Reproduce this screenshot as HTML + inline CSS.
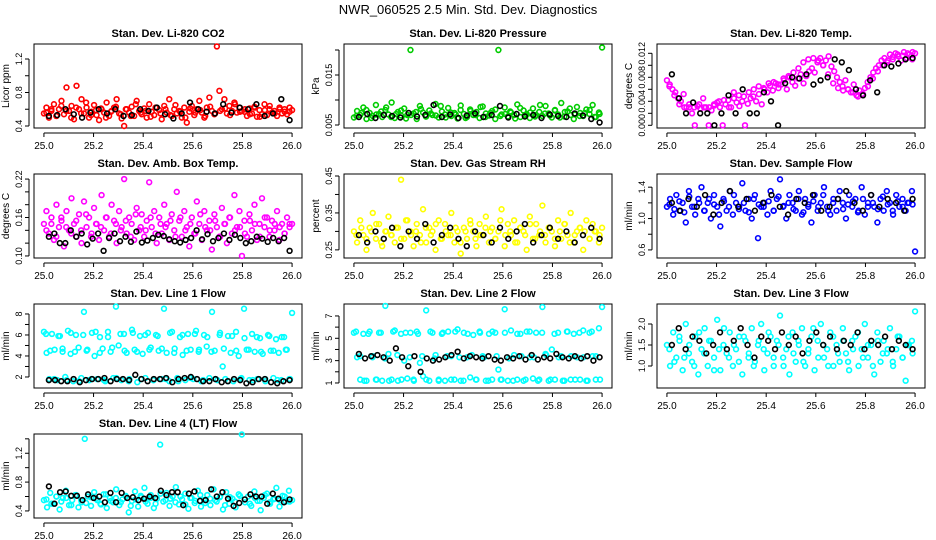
<!DOCTYPE html>
<html><head><meta charset="utf-8"><style>
html,body{margin:0;padding:0;background:#fff;}
svg{display:block;font-family:"Liberation Sans",sans-serif;}
</style></head><body>
<svg id="chart" width="936" height="540" viewBox="0 0 936 540" xmlns="http://www.w3.org/2000/svg">
<rect width="936" height="540" fill="#fff"/>
<text x="468" y="14" text-anchor="middle" font-size="13">NWR_060525  2.5 Min. Std. Dev. Diagnostics</text>
</svg>
<script>
const xTicks = [25.0, 25.2, 25.4, 25.6, 25.8, 26.0];
const xTickLabels = ["25.0", "25.2", "25.4", "25.6", "25.8", "26.0"];
const panelTitles = ["Stan. Dev. Li-820 CO2","Stan. Dev. Li-820 Pressure","Stan. Dev. Li-820 Temp.","Stan. Dev. Amb. Box Temp.","Stan. Dev. Gas Stream RH","Stan. Dev. Sample Flow","Stan. Dev. Line 1 Flow","Stan. Dev. Line 2 Flow","Stan. Dev. Line 3 Flow","Stan. Dev. Line 4 (LT) Flow"];
const yLabels = ["Licor ppm","kPa","degrees C","degrees C","percent","ml/min","ml/min","ml/min","ml/min","ml/min"];
const yDomains = [[0.376,1.379],[0.0044,0.0212],[-0.00045,0.01355],[0.0968,0.2279],[0.228,0.4554],[0.497,1.568],[0.95,8.95],[0.55,8.07],[0.476,2.476],[0.302,1.467]];
const yTicks = [[0.4,0.6,0.8,1.0,1.2],[0.005,0.010,0.015,0.020],[0,0.002,0.004,0.006,0.008,0.010,0.012],[0.10,0.12,0.14,0.16,0.18,0.20,0.22],[0.25,0.30,0.35,0.40,0.45],[0.6,0.8,1.0,1.2,1.4],[2,3,4,5,6,7,8],[1,2,3,4,5,6,7],[1.0,1.5,2.0],[0.4,0.6,0.8,1.0,1.2,1.4]];
const yTickLabels = [["0.4","","0.8","","1.2"],["0.005","","0.015",""],["0.000","","0.004","","0.008","","0.012"],["0.10","","","0.16","","","0.22"],["0.25","","0.35","","0.45"],["0.6","","1.0","","1.4"],["2","","4","","6","","8"],["1","","3","","5","","7"],["1.0","1.5","2.0"],["0.4","","0.8","","1.2",""]];
const seriesColors = ["#ff0000","#00cc00","#ff00ff","#ff00ff","#ffff00","#0000ff","#00ffff","#00ffff","#00ffff","#00ffff"];

const co2Vals = [0.55,0.62,0.50,0.58,0.66,0.52,0.60,0.70,0.54,0.86,0.58,0.64,0.48,0.88,0.60,0.72,0.55,0.62,0.50,0.57,0.65,0.53,0.47,0.60,0.56,0.68,0.52,0.58,0.62,0.72,0.55,0.49,0.40,0.60,0.56,0.63,0.52,0.70,0.58,0.54,0.61,0.50,0.66,0.57,0.53,0.62,0.59,0.48,0.64,0.56,0.72,0.52,0.60,0.55,0.58,0.50,0.62,0.44,0.57,0.64,0.53,0.60,0.70,0.56,0.50,0.62,0.74,0.58,0.54,1.35,0.82,0.60,0.72,0.55,0.64,0.58,0.68,0.56,0.62,0.58,0.57,0.52,0.61,0.55,0.63,0.51,0.59,0.54,0.66,0.53,0.60,0.56,0.58,0.52,0.62,0.55,0.60,0.54,0.57,0.59];
const co2Extra = [0.56,0.60,0.52,0.64,0.58,0.50,0.62,0.55,0.68,0.53,0.59,0.61,0.50,0.57,0.63,0.54,0.60,0.52,0.66,0.56,0.58,0.51,0.62,0.55,0.60,0.53,0.65,0.57,0.50,0.61,0.56,0.59,0.52,0.63,0.55,0.58,0.61,0.53,0.66,0.57,0.60,0.54,0.62,0.51,0.59,0.64,0.55,0.60,0.57,0.62];
const co2Black = [0.52,0.53,0.60,0.54,0.50,0.56,0.60,0.55,0.60,0.52,0.53,0.60,0.58,0.62,0.54,0.49,0.55,0.68,0.60,0.57,0.55,0.66,0.56,0.62,0.60,0.66,0.52,0.55,0.72,0.47];
const presVals = [0.0065,0.0078,0.0070,0.0085,0.0062,0.0074,0.0068,0.0090,0.0072,0.0066,0.0080,0.0071,0.0095,0.0064,0.0076,0.0069,0.0083,0.0070,0.0200,0.0073,0.0062,0.0088,0.0075,0.0067,0.0079,0.0070,0.0092,0.0065,0.0077,0.0071,0.0084,0.0068,0.0074,0.0063,0.0089,0.0072,0.0066,0.0081,0.0070,0.0076,0.0064,0.0087,0.0073,0.0069,0.0078,0.0062,0.0200,0.0071,0.0085,0.0067,0.0075,0.0070,0.0091,0.0066,0.0079,0.0072,0.0064,0.0083,0.0070,0.0076,0.0068,0.0088,0.0073,0.0065,0.0080,0.0071,0.0094,0.0067,0.0077,0.0070,0.0062,0.0086,0.0074,0.0068,0.0081,0.0072,0.0090,0.0066,0.0075,0.0205];
const presExtra = [0.0068,0.0074,0.0080,0.0064,0.0071,0.0077,0.0085,0.0066,0.0072,0.0079,0.0063,0.0070,0.0076,0.0082,0.0067,0.0073,0.0069,0.0088,0.0065,0.0075,0.0071,0.0080,0.0064,0.0078,0.0070,0.0086,0.0066,0.0074,0.0081,0.0068,0.0072,0.0077,0.0063,0.0084,0.0070,0.0075,0.0067,0.0090,0.0073,0.0069,0.0079,0.0065,0.0076,0.0083,0.0071,0.0068,0.0074,0.0080,0.0066,0.0072];
const presBlack = [0.0066,0.0072,0.0064,0.0070,0.0068,0.0065,0.0074,0.0067,0.0070,0.0090,0.0066,0.0071,0.0064,0.0069,0.0073,0.0066,0.0070,0.0088,0.0065,0.0072,0.0067,0.0070,0.0064,0.0071,0.0068,0.0066,0.0073,0.0069,0.0062,0.0055];
const tempVals = [0.0075,0.0068,0.0060,0.0055,0.0045,0.0040,0.0052,0.0030,0.0035,0.0020,0.0000,0.0032,0.0028,0.0045,0.0030,0.0000,0.0025,0.0033,0.0038,0.0030,0.0000,0.0035,0.0042,0.0030,0.0055,0.0038,0.0032,0.0040,0.0000,0.0036,0.0045,0.0048,0.0040,0.0052,0.0035,0.0060,0.0055,0.0066,0.0058,0.0070,0.0062,0.0068,0.0075,0.0060,0.0080,0.0072,0.0066,0.0078,0.0085,0.0070,0.0082,0.0090,0.0095,0.0088,0.0105,0.0112,0.0100,0.0108,0.0115,0.0098,0.0090,0.0080,0.0072,0.0065,0.0075,0.0060,0.0055,0.0068,0.0050,0.0058,0.0052,0.0062,0.0072,0.0080,0.0088,0.0095,0.0100,0.0108,0.0112,0.0105,0.0118,0.0110,0.0120,0.0115,0.0108,0.0122,0.0112,0.0118,0.0110,0.0120];
const tempExtra = [0.0065,0.0050,0.0035,0.0030,0.0030,0.0030,0.0035,0.0030,0.0030,0.0035,0.0040,0.0042,0.0030,0.0045,0.0050,0.0048,0.0055,0.0060,0.0065,0.0062,0.0070,0.0072,0.0068,0.0078,0.0082,0.0088,0.0095,0.0105,0.0110,0.0112,0.0108,0.0100,0.0085,0.0070,0.0062,0.0058,0.0060,0.0055,0.0048,0.0052,0.0065,0.0078,0.0090,0.0100,0.0108,0.0114,0.0118,0.0116,0.0120,0.0122];
const tempBlack = [0.0085,0.0045,0.0020,0.0038,0.0020,0.0020,0.0000,0.0020,0.0050,0.0020,0.0060,0.0020,0.0020,0.0055,0.0040,0.0000,0.0070,0.0080,0.0078,0.0085,0.0068,0.0075,0.0080,0.0110,0.0105,0.0092,0.0060,0.0050,0.0075,0.0055,0.0100,0.0098,0.0103,0.0110,0.0112];
const ambVals = [0.150,0.170,0.135,0.160,0.125,0.180,0.145,0.155,0.115,0.170,0.140,0.190,0.150,0.130,0.165,0.120,0.185,0.145,0.160,0.135,0.175,0.150,0.125,0.195,0.140,0.160,0.130,0.180,0.155,0.120,0.170,0.145,0.220,0.135,0.160,0.150,0.125,0.175,0.140,0.165,0.130,0.155,0.215,0.145,0.170,0.120,0.160,0.135,0.180,0.150,0.125,0.165,0.140,0.200,0.155,0.130,0.170,0.145,0.115,0.160,0.135,0.185,0.150,0.125,0.170,0.140,0.155,0.110,0.165,0.145,0.130,0.175,0.150,0.120,0.160,0.135,0.195,0.145,0.170,0.100,0.155,0.130,0.165,0.140,0.180,0.125,0.150,0.190,0.145,0.160,0.130,0.155,0.140,0.170,0.125,0.150,0.135,0.160,0.145,0.150];
const ambExtra = [0.140,0.150,0.130,0.160,0.145,0.135,0.155,0.140,0.165,0.130,0.150,0.145,0.160,0.135,0.150,0.140,0.155,0.130,0.165,0.145,0.140,0.160,0.135,0.150,0.145,0.155,0.130,0.160,0.140,0.150,0.135,0.165,0.145,0.140,0.155,0.130,0.150,0.160,0.140,0.145,0.135,0.155,0.150,0.130,0.160,0.140,0.150,0.145,0.135,0.150];
const ambBlack = [0.130,0.135,0.120,0.120,0.140,0.130,0.135,0.118,0.127,0.135,0.108,0.128,0.135,0.123,0.130,0.122,0.138,0.121,0.124,0.128,0.133,0.131,0.126,0.123,0.121,0.125,0.128,0.140,0.126,0.134,0.123,0.128,0.135,0.125,0.133,0.128,0.120,0.123,0.130,0.127,0.122,0.128,0.123,0.128,0.108];
const rhVals = [0.30,0.27,0.33,0.29,0.25,0.31,0.35,0.28,0.32,0.26,0.30,0.34,0.29,0.27,0.31,0.44,0.28,0.33,0.30,0.26,0.32,0.29,0.36,0.27,0.31,0.30,0.25,0.33,0.28,0.32,0.29,0.35,0.27,0.30,0.24,0.31,0.28,0.33,0.30,0.26,0.32,0.29,0.34,0.27,0.31,0.28,0.30,0.36,0.26,0.32,0.29,0.33,0.27,0.31,0.30,0.25,0.34,0.28,0.32,0.29,0.37,0.27,0.31,0.30,0.26,0.33,0.28,0.32,0.29,0.35,0.27,0.30,0.31,0.25,0.33,0.28,0.32,0.30,0.27,0.31];
const rhExtra = [0.29,0.31,0.28,0.30,0.32,0.27,0.30,0.29,0.31,0.28,0.33,0.29,0.30,0.27,0.31,0.29,0.32,0.28,0.30,0.29,0.31,0.27,0.30,0.32,0.28,0.29,0.31,0.30,0.28,0.33,0.29,0.30,0.27,0.31,0.29,0.32,0.28,0.30,0.29,0.31,0.28,0.30,0.32,0.27,0.29,0.31,0.30,0.28,0.30,0.29];
const rhBlack = [0.29,0.27,0.30,0.28,0.31,0.26,0.30,0.28,0.32,0.27,0.29,0.31,0.28,0.26,0.30,0.29,0.27,0.31,0.28,0.30,0.32,0.27,0.29,0.31,0.28,0.30,0.27,0.29,0.31,0.28];
const flowVals = [1.15,1.25,1.05,1.30,1.10,1.20,0.95,1.35,1.15,1.05,1.25,1.40,1.10,1.20,1.00,1.30,1.15,0.90,1.25,1.10,1.35,1.05,1.20,1.15,1.45,1.10,1.25,1.00,1.30,0.75,1.15,1.20,1.05,1.35,1.10,1.25,1.50,1.15,1.00,1.30,1.20,1.10,1.35,1.05,1.25,1.15,0.95,1.30,1.10,1.20,1.40,1.15,1.05,1.25,1.10,1.35,1.20,1.00,1.30,1.15,1.25,1.10,1.40,1.05,1.20,1.30,1.15,0.95,1.25,1.10,1.35,1.20,1.05,1.30,1.15,1.25,1.10,1.20,1.35,0.58];
const flowExtra = [1.18,1.12,1.22,1.08,1.28,1.15,1.20,1.10,1.25,1.18,1.05,1.22,1.15,1.30,1.12,1.20,1.08,1.25,1.18,1.15,1.22,1.10,1.28,1.16,1.20,1.12,1.25,1.08,1.18,1.22,1.15,1.30,1.10,1.20,1.25,1.12,1.18,1.22,1.08,1.25,1.15,1.20,1.12,1.28,1.18,1.10,1.22,1.15,1.20,1.18];
const flowBlack = [1.20,1.10,1.25,1.15,1.30,1.05,1.20,1.35,1.15,1.25,1.10,1.20,1.30,1.15,1.05,1.25,1.20,1.30,1.10,1.15,1.25,1.35,1.20,1.10,1.30,1.15,1.25,1.20,1.10,1.25];
const line1Vals = [6.3,4.3,1.8,6.1,4.6,1.7,5.9,4.4,2.0,6.4,4.2,1.6,6.0,4.8,1.9,8.2,4.5,1.7,6.2,4.0,1.8,5.8,4.7,1.6,6.3,4.4,1.9,8.7,5.0,1.7,6.1,4.3,1.8,6.5,4.6,1.5,5.9,4.2,1.9,6.2,4.8,1.7,6.0,4.5,1.8,8.5,4.3,1.6,6.3,4.7,1.9,5.8,4.1,1.7,6.1,4.6,1.8,6.4,4.4,1.6,6.0,4.9,1.9,8.2,4.5,1.7,6.2,3.0,1.8,5.9,4.3,1.6,6.3,4.0,1.9,8.5,4.6,1.7,6.1,4.4,1.8,5.7,4.2,1.6,6.0,4.5,1.9,5.6,4.3,1.7,5.8,4.6,1.8,8.1];
const line1Extra = [6.1,4.5,1.8,5.9,4.7,1.7,6.2,4.4,1.6,6.0,4.6,1.8,6.3,4.3,1.7,5.8,4.8,1.9,6.1,4.5,1.6,6.2,4.4,1.8,6.0,4.6,1.7,5.9,4.7,1.8,6.2,4.3,1.6,6.0,4.5,1.9,6.1,4.6,1.7,5.8,4.4,1.8,6.0,4.7,1.6,5.9,4.5,1.8,5.7,4.6,1.7,5.8,4.4,1.8,5.9,4.5,1.7,5.8,4.6,1.8];
const line1Black = [1.7,1.7,1.6,1.6,1.8,1.5,1.7,1.8,1.8,1.9,1.6,1.8,1.8,1.7,2.2,1.8,1.6,1.8,1.8,1.9,1.5,1.8,1.9,2.0,1.8,1.6,1.6,1.8,1.5,1.6,1.8,1.7,1.4,1.5,1.8,1.8,1.5,1.4,1.6,1.7];
const line2Vals = [5.5,3.3,1.3,5.4,1.2,5.6,3.4,1.3,5.5,1.2,7.9,3.6,1.3,5.7,1.2,5.4,3.0,1.4,5.5,1.3,5.6,2.8,1.6,7.5,1.2,5.5,3.5,1.3,5.4,1.2,5.6,3.4,1.3,5.8,1.2,5.5,3.3,1.5,5.3,1.3,5.6,3.4,1.2,5.4,1.3,5.5,2.2,1.3,7.6,1.2,5.7,3.5,1.3,5.4,1.2,5.6,3.3,1.4,5.5,1.3,7.8,3.6,1.2,4.0,1.3,5.5,3.4,1.2,5.6,1.3,5.4,3.3,1.3,5.7,1.2,5.5,3.4,1.3,5.9,7.8];
const line2Extra = [5.6,3.4,1.2,5.4,3.3,1.3,5.5,3.2,1.2,5.6,3.5,1.3,5.5,3.3,1.2,5.4,3.4,1.3,5.6,3.2,1.2,5.5,3.4,1.3,5.6,3.3,1.2,5.4,3.5,1.3,5.5,3.3,1.2,5.6,3.4,1.3,5.5,3.2,1.2,5.4,3.4,1.3,5.6,3.3,1.2,5.5,3.5,1.3,5.4,3.3,1.2,5.6,3.4,1.3,5.5,3.3,1.2,5.6,3.4,1.3];
const line2Black = [3.6,3.2,3.4,3.5,3.3,3.0,4.1,3.3,2.5,3.4,2.0,3.2,3.0,3.1,3.3,3.5,3.8,3.2,3.4,3.3,3.2,3.4,3.1,3.0,3.3,3.2,3.4,3.1,3.5,3.1,3.3,3.2,3.6,3.3,3.2,3.4,3.2,3.4,3.0,3.3];
const line3Vals = [1.5,1.0,1.8,1.2,1.6,0.9,2.0,1.3,1.1,1.7,0.8,1.4,1.9,1.0,1.6,1.2,2.1,0.9,1.5,1.3,1.8,1.0,1.4,1.7,0.8,1.6,1.2,1.9,1.1,1.5,2.0,0.9,1.3,1.7,1.0,1.6,2.2,1.2,1.4,0.8,1.8,1.1,1.5,1.9,1.0,1.3,1.7,0.9,1.6,2.0,1.2,1.4,1.8,1.0,1.5,1.1,1.9,1.3,0.9,1.6,1.7,1.0,1.4,2.0,1.2,1.5,0.8,1.8,1.1,1.6,1.3,1.9,1.0,1.4,1.7,1.2,0.65,1.5,1.6,2.3];
const line3Extra = [1.4,1.1,1.7,1.2,1.5,1.0,1.8,1.3,1.6,0.9,1.4,1.9,1.2,1.5,1.1,1.7,1.3,1.0,1.6,1.4,1.8,1.2,1.5,1.0,1.7,1.3,1.6,1.1,1.4,1.9,1.2,1.5,1.0,1.7,1.3,1.6,1.1,1.4,1.8,1.2,1.5,1.0,1.6,1.3,1.4,1.1,1.7,1.2,1.5,1.3];
const line3Black = [1.5,1.9,1.4,1.7,1.6,1.3,1.5,1.8,1.4,1.6,1.9,1.5,1.2,1.7,1.6,1.4,1.8,1.5,1.7,1.3,1.6,1.8,1.5,1.7,1.4,1.6,1.5,1.8,1.4,1.6,1.5,1.7,1.4,1.6,1.5,1.4];
const line4Vals = [0.55,0.45,0.65,0.50,0.60,0.42,0.58,0.68,0.48,0.55,0.62,0.45,0.52,1.40,0.60,0.47,0.66,0.55,0.50,0.63,0.44,0.58,0.52,0.70,0.48,0.56,0.61,0.38,0.54,0.67,0.46,0.59,0.72,0.50,0.62,0.44,0.57,1.32,0.53,0.65,0.47,0.60,0.73,0.49,0.56,0.64,0.43,0.58,0.51,0.68,0.46,0.55,0.62,0.48,0.70,0.53,0.59,0.42,0.66,0.50,0.57,0.45,0.63,1.46,0.52,0.60,0.47,0.67,0.54,0.41,0.58,0.64,0.50,0.56,0.72,0.46,0.61,0.53,0.68,0.55];
const line4Extra = [0.56,0.50,0.60,0.53,0.58,0.48,0.62,0.55,0.51,0.59,0.57,0.49,0.63,0.54,0.58,0.52,0.60,0.47,0.56,0.61,0.53,0.58,0.50,0.64,0.55,0.57,0.52,0.60,0.49,0.58,0.54,0.62,0.51,0.57,0.55,0.60,0.48,0.59,0.53,0.61,0.56,0.50,0.58,0.54,0.62,0.52,0.57,0.55,0.60,0.53];
const line4Black = [0.74,0.50,0.66,0.67,0.61,0.61,0.55,0.63,0.58,0.60,0.52,0.65,0.52,0.65,0.58,0.59,0.55,0.57,0.60,0.58,0.68,0.62,0.66,0.66,0.48,0.64,0.67,0.54,0.55,0.70,0.60,0.66,0.57,0.47,0.51,0.56,0.63,0.60,0.60,0.50,0.64,0.57,0.52,0.56];

const colorSeries = [co2Vals,presVals,tempVals,ambVals,rhVals,flowVals,line1Vals,line2Vals,line3Vals,line4Vals];
const extraSeries = [co2Extra,presExtra,tempExtra,ambExtra,rhExtra,flowExtra,line1Extra,line2Extra,line3Extra,line4Extra];
const blackSeries = [co2Black,presBlack,tempBlack,ambBlack,rhBlack,flowBlack,line1Black,line2Black,line3Black,line4Black];

const NS = "http://www.w3.org/2000/svg";
const svg = document.getElementById("chart");
const colLefts = [34, 344, 657];
const rowTops = [44, 174, 304, 434];
const boxW = 268, boxH = 84;
const X0 = 24.96, X1 = 26.04;

function mk(tag, attrs, parent) {
  const e = document.createElementNS(NS, tag);
  for (const k in attrs) e.setAttribute(k, attrs[k]);
  (parent || svg).appendChild(e);
  return e;
}

for (let p = 0; p < 10; p++) {
  const L = colLefts[p % 3], T = rowTops[Math.floor(p / 3)];
  const g = mk("g", {});
  
  
  const xs = v => L + (v - X0) / (X1 - X0) * boxW;
  const [d0, d1] = yDomains[p];
  const ys = v => T + boxH - (v - d0) / (d1 - d0) * boxH;

  const title = mk("text", {x: L + boxW / 2, y: T - 7, "text-anchor": "middle", "font-size": 11, "font-weight": "bold"}, g);
  title.textContent = panelTitles[p];
  
  

  const box = mk("rect", {x: L, y: T, width: boxW, height: boxH, fill: "none", stroke: "#000", "stroke-width": 1}, g);
  
  

  const xa = mk("g", {}, g);
  
  
  mk("line", {x1: xs(xTicks[0]), x2: xs(xTicks[xTicks.length - 1]), y1: T + boxH + 5, y2: T + boxH + 5, stroke: "#000"}, xa);
  xTicks.forEach((t, i) => {
    mk("line", {x1: xs(t), x2: xs(t), y1: T + boxH + 5, y2: T + boxH + 9, stroke: "#000"}, xa);
    const lb = mk("text", {x: xs(t), y: T + boxH + 21, "text-anchor": "middle", "font-size": 10}, xa);
    lb.textContent = xTickLabels[i];
    
    
  });

  const ya = mk("g", {}, g);
  
  
  const tk = yTicks[p];
  mk("line", {x1: L - 5, x2: L - 5, y1: ys(tk[0]), y2: ys(tk[tk.length - 1]), stroke: "#000"}, ya);
  tk.forEach((t, i) => {
    mk("line", {x1: L - 9, x2: L - 5, y1: ys(t), y2: ys(t), stroke: "#000"}, ya);
    if (yTickLabels[p][i]) {
      const lb = mk("text", {x: 0, y: 0, "text-anchor": "middle", "font-size": 9, transform: `translate(${L - 12},${ys(t)}) rotate(-90)`}, ya);
      lb.textContent = yTickLabels[p][i];
      
      
    }
  });
  const yt = mk("text", {x: 0, y: 0, "text-anchor": "middle", "font-size": 10, transform: `translate(${L - 25},${T + boxH / 2}) rotate(-90)`}, g);
  yt.textContent = yLabels[p];
  
  

  const cg = mk("g", {fill: "none", stroke: seriesColors[p], "stroke-width": 1.6}, g);
  
  
  const cs = colorSeries[p];
  cs.forEach((v, i) => {
    const t = 25.0 + i / (cs.length - 1);
    const c = mk("circle", {cx: xs(t), cy: ys(v), r: 2.4}, cg);
    
    
  });
  const es = extraSeries[p];
  es.forEach((v, i) => {
    const t = 25.0 + (i + 0.5) / es.length;
    const c = mk("circle", {cx: xs(t), cy: ys(v), r: 2.4}, cg);
    
    
  });
  const bs = blackSeries[p];
  const bg = mk("g", {fill: "none", stroke: "#000", "stroke-width": 1.6}, g);
  
  
  bs.forEach((v, i) => {
    const t = 25.02 + 0.97 * i / (bs.length - 1);
    const c = mk("circle", {cx: xs(t), cy: ys(v), r: 2.4}, bg);
    
    
  });
}
</script>
</body></html>
